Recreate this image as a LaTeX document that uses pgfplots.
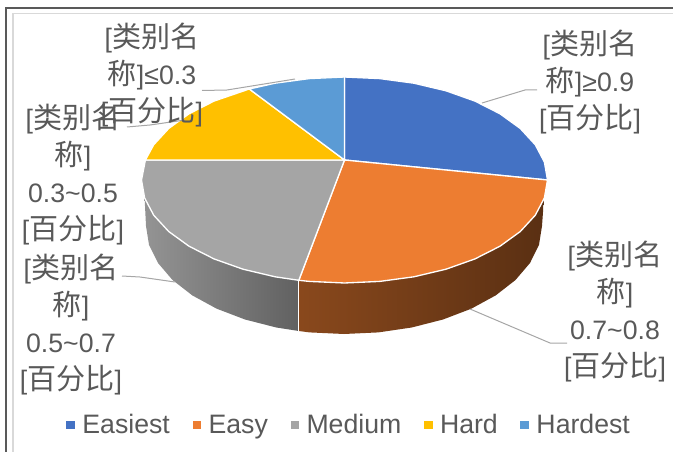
\documentclass[border=0pt]{standalone}
\usepackage{fontspec}
\setmainfont{Liberation Sans}
\newfontfamily\cjk[Scale=1.09]{Noto Sans CJK SC}
\usepackage{pgfplots}
\pgfplotsset{compat=1.18}
\definecolor{cEasiest}{HTML}{4472C4}
\definecolor{cEasy}{HTML}{ED7D31}
\definecolor{cMedium}{HTML}{A5A5A5}
\definecolor{cHard}{HTML}{FFC000}
\definecolor{cHardest}{HTML}{5B9BD5}
\definecolor{txt}{HTML}{595959}
\definecolor{leader}{HTML}{A6A6A6}
% one axis unit is one pixel of the reference, y runs downwards
\newcommand{\lab}[3]{\node[text=txt, align=center, inner sep=0pt, font=\fontsize{20}{27.75}\selectfont] at (axis cs:#1,#2) {#3};}
\newcommand{\lm}{{\cjk 类别名}}
\newcommand{\lc}{{\cjk 称}}
\newcommand{\lp}{[{\cjk 百分比}]}
\begin{document}
\begin{tikzpicture}
\useasboundingbox (0,0) rectangle (504.75pt,339pt);
\begin{axis}[
  at={(0,0)}, anchor=south west,
  scale only axis, width=504.75pt, height=339pt,
  xmin=0, xmax=673, ymin=0, ymax=452, y dir=reverse,
  hide axis, clip=false,
  legend columns=5,
  legend cell align=left,
  legend style={at={(349.5/673,1-425/452)}, anchor=center, draw=none, fill=none,
    font=\fontsize{20}{24}\selectfont, text=txt, inner sep=0pt,
    /tikz/every odd column/.append style={column sep=3.5pt},
    /tikz/every even column/.append style={column sep=15pt}},
  legend image code/.code={\path[#1, draw=none] (0pt,-3pt) rectangle (6.5pt,3pt);},
]
% frame
\addplot[forget plot, color=txt, line width=1.3pt] coordinates {(6,452) (6,8) (673,8)};
\addplot[forget plot, color=black!15, line width=0.9pt] coordinates {(13,452) (13,13.5) (673,13.5)};
% side walls
\addplot[forget plot, draw=none, left color=black!42, right color=black!62] coordinates {
  (144.6,197.9) (153.7,215.2) (168.7,231.5) (189,246.2) (214,258.9) (243,269.2) (275.1,276.8) (298.8,280.3)
  (298.8,331) (276.3,327.5) (245,319.5) (216.7,308.7) (192.3,295.4) (172.5,280) (158,263) (149,244.8) (146,226)} -- cycle;
\addplot[forget plot, draw=none, left color=cEasy!58!black, middle color=cEasy!38!black, right color=cEasy!38!black] coordinates {
  (298.8,280.3) (309.2,281.4) (344.5,283) (379.8,281.4) (413.9,276.8) (446,269.2) (475,258.9) (500,246.2) (520.3,231.5) (535.3,215.2) (543.5,198)
  (543,212) (542,226) (539,244.8) (530,263) (515.5,280) (495.7,295.4) (471.3,308.7) (443,319.5) (411.7,327.5) (378.4,332.4) (344,334) (309.6,332.4) (298.8,331)} -- cycle;
\addplot[forget plot, color=white, line width=0.9pt] coordinates {(298.3,281) (298.3,331)};
% top face
\addplot[fill=cEasiest, draw=white, line width=1pt] coordinates {
  (344.5,160) (344.5,77) (379.8,78.6) (413.9,83.2) (446,90.8) (475,101.1) (500,113.8) (520.3,128.5) (535.3,144.8) (544.4,162.1) (547.5,180)} -- cycle;
\addlegendentry{Easiest}
\addplot[fill=cEasy, draw=white, line width=1pt] coordinates {
  (344.5,160) (547.5,180) (544.4,197.9) (535.3,215.2) (520.3,231.5) (500,246.2) (475,258.9) (446,269.2) (413.9,276.8) (379.8,281.4) (344.5,283) (309.2,281.4) (298.8,280.3)} -- cycle;
\addlegendentry{Easy}
\addplot[fill=cMedium, draw=white, line width=1pt] coordinates {
  (344.5,160) (298.8,280.3) (275.1,276.8) (243,269.2) (214,258.9) (189,246.2) (168.7,231.5) (153.7,215.2) (144.6,197.9) (141.5,180) (145.4,160)} -- cycle;
\addlegendentry{Medium}
\addplot[fill=cHard, draw=white, line width=1pt] coordinates {
  (344.5,160) (145.4,160) (153.7,144.8) (168.7,128.5) (189,113.8) (214,101.1) (249.3,89)} -- cycle;
\addlegendentry{Hard}
\addplot[fill=cHardest, draw=white, line width=1pt] coordinates {
  (344.5,160) (249.3,89) (275.1,83.2) (309.2,78.6) (344.5,77)} -- cycle;
\addlegendentry{Hardest}
% leader lines
\addplot[forget plot, color=leader, line width=0.75pt] coordinates {(537,90) (525,90) (482,103)};
\addplot[forget plot, color=leader, line width=0.75pt] coordinates {(567,343) (550,343) (470,309)};
\addplot[forget plot, color=leader, line width=0.75pt] coordinates {(122,276) (140,277) (175,282)};
\addplot[forget plot, color=leader, line width=0.75pt] coordinates {(127,127) (150,125) (185,120)};
\addplot[forget plot, color=leader, line width=0.75pt] coordinates {(202,90.5) (227,90) (295,79)};
% data labels
\lab{590}{82}{[\lm\\\lc]≥0.9\\\lp}
\lab{615}{312}{[\lm\\\lc]\\0.7\textasciitilde 0.8\\\lp}
\lab{71}{325}{[\lm\\\lc]\\0.5\textasciitilde 0.7\\\lp}
\lab{73}{175}{[\lm\\\lc]\\0.3\textasciitilde 0.5\\\lp}
\lab{152}{75}{[\lm\\\lc]≤0.3\\\lp}
\end{axis}
\end{tikzpicture}
\end{document}
